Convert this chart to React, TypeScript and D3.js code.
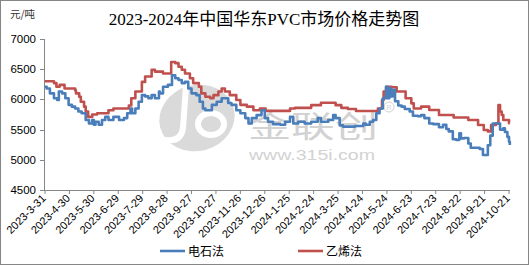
import React from "react";
import * as d3 from "d3";

const W = 529;
const H = 265;

const title = "2023-2024年中国华东PVC市场价格走势图";
const unitLabel = "元/吨";
const yTicks = [4500, 5000, 5500, 6000, 6500, 7000];
const xTickLabels = [
  "2023-3-31", "2023-4-30", "2023-5-30", "2023-6-29", "2023-7-29", "2023-8-28",
  "2023-9-27", "2023-10-27", "2023-11-26", "2023-12-26", "2024-1-25", "2024-2-24",
  "2024-3-25", "2024-4-24", "2024-5-24", "2024-6-23", "2024-7-23", "2024-8-22",
  "2024-9-21", "2024-10-21",
];
const seriesNames = ["电石法", "乙烯法"];

// 电石法 (calcium carbide process)
const dianshi: [string, number][] = [
  ["2023-03-31", 6210], ["2023-04-02", 6180], ["2023-04-06", 6100], ["2023-04-11", 6020],
  ["2023-04-15", 5990], ["2023-04-17", 6130], ["2023-04-21", 6100], ["2023-04-25", 6020],
  ["2023-04-29", 5910], ["2023-05-03", 5880], ["2023-05-07", 5850], ["2023-05-11", 5800],
  ["2023-05-15", 5770], ["2023-05-20", 5660], ["2023-05-24", 5600], ["2023-05-28", 5660],
  ["2023-05-30", 5580], ["2023-06-01", 5630], ["2023-06-05", 5580], ["2023-06-09", 5660],
  ["2023-06-13", 5710], ["2023-06-17", 5660], ["2023-06-23", 5710], ["2023-06-30", 5660],
  ["2023-07-06", 5690], ["2023-07-10", 5770], ["2023-07-14", 5850], ["2023-07-16", 5770],
  ["2023-07-20", 5850], ["2023-07-24", 5960], ["2023-07-28", 6070], ["2023-08-01", 6050],
  ["2023-08-05", 6020], ["2023-08-09", 6070], ["2023-08-13", 6020], ["2023-08-18", 6130],
  ["2023-08-19", 6100], ["2023-08-23", 6210], ["2023-08-29", 6240], ["2023-09-03", 6400],
  ["2023-09-07", 6350], ["2023-09-11", 6320], ["2023-09-15", 6270], ["2023-09-19", 6290],
  ["2023-09-23", 6180], ["2023-09-27", 6100], ["2023-10-03", 6070], ["2023-10-07", 5960],
  ["2023-10-11", 5850], ["2023-10-14", 5820], ["2023-10-22", 5910], ["2023-10-28", 5960],
  ["2023-11-03", 6020], ["2023-11-11", 5940], ["2023-11-15", 5910], ["2023-11-21", 5820],
  ["2023-11-26", 5770], ["2023-12-02", 5690], ["2023-12-06", 5600], ["2023-12-10", 5690],
  ["2023-12-16", 5740], ["2023-12-22", 5820], ["2023-12-26", 5690], ["2023-12-30", 5630],
  ["2024-01-05", 5590], ["2024-01-14", 5580], ["2024-01-20", 5630], ["2024-01-26", 5710],
  ["2024-01-30", 5600], ["2024-02-05", 5630], ["2024-02-13", 5600], ["2024-02-21", 5630],
  ["2024-02-29", 5690], ["2024-03-04", 5630], ["2024-03-13", 5660], ["2024-03-19", 5740],
  ["2024-03-22", 5690], ["2024-03-27", 5570], ["2024-03-31", 5550], ["2024-04-15", 5560],
  ["2024-04-25", 5600], ["2024-04-28", 5580], ["2024-05-03", 5630], ["2024-05-07", 5660],
  ["2024-05-11", 5770], ["2024-05-15", 5850], ["2024-05-19", 6020], ["2024-05-23", 6210],
  ["2024-05-25", 6020], ["2024-05-27", 6180], ["2024-05-29", 6050], ["2024-05-31", 6160],
  ["2024-06-03", 5970], ["2024-06-07", 5900], ["2024-06-11", 5880], ["2024-06-15", 5840],
  ["2024-06-21", 5800], ["2024-06-25", 5730], ["2024-07-01", 5720], ["2024-07-05", 5740],
  ["2024-07-09", 5690], ["2024-07-15", 5600], ["2024-07-20", 5590], ["2024-07-27", 5540],
  ["2024-08-01", 5580], ["2024-08-05", 5510], ["2024-08-08", 5470], ["2024-08-13", 5340],
  ["2024-08-17", 5330], ["2024-08-21", 5440], ["2024-08-23", 5355], ["2024-08-27", 5360],
  ["2024-09-01", 5270], ["2024-09-04", 5200], ["2024-09-15", 5180], ["2024-09-19", 5080],
  ["2024-09-25", 5240], ["2024-09-28", 5400], ["2024-10-01", 5600], ["2024-10-08", 5600],
  ["2024-10-10", 5500], ["2024-10-14", 5520], ["2024-10-16", 5460], ["2024-10-19", 5380],
  ["2024-10-21", 5300], ["2024-10-22", 5245],
];

// 乙烯法 (ethylene process)
const yixi: [string, number][] = [
  ["2023-03-31", 6300], ["2023-04-11", 6270], ["2023-04-14", 6210], ["2023-04-18", 6240],
  ["2023-04-24", 6180], ["2023-05-07", 6150], ["2023-05-08", 6100], ["2023-05-12", 6045],
  ["2023-05-14", 5960], ["2023-05-18", 5880], ["2023-05-20", 5800], ["2023-05-23", 5710],
  ["2023-05-28", 5750], ["2023-06-03", 5770], ["2023-06-17", 5820], ["2023-06-23", 5850],
  ["2023-07-12", 5900], ["2023-07-15", 6020], ["2023-07-20", 6130], ["2023-07-28", 6290],
  ["2023-08-01", 6380], ["2023-08-09", 6490], ["2023-08-13", 6460], ["2023-08-23", 6430],
  ["2023-09-02", 6620], ["2023-09-07", 6600], ["2023-09-11", 6540], ["2023-09-15", 6490],
  ["2023-09-19", 6430], ["2023-09-25", 6350], ["2023-09-29", 6270], ["2023-10-06", 6210],
  ["2023-10-09", 6100], ["2023-10-14", 6045], ["2023-10-20", 6020], ["2023-10-24", 6070],
  ["2023-10-30", 6130], ["2023-11-03", 6180], ["2023-11-07", 6130], ["2023-11-13", 6070],
  ["2023-11-21", 5990], ["2023-11-26", 5910], ["2023-12-04", 5880], ["2023-12-12", 5820],
  ["2023-12-20", 5850], ["2023-12-27", 5810], ["2024-01-26", 5850], ["2024-02-01", 5860],
  ["2024-02-21", 5905], ["2024-03-04", 5945], ["2024-03-22", 5905], ["2024-03-29", 5860],
  ["2024-04-06", 5840], ["2024-04-16", 5808], ["2024-05-13", 5850], ["2024-05-18", 5990],
  ["2024-05-20", 6130], ["2024-05-23", 6210], ["2024-05-30", 6200], ["2024-06-05", 6130],
  ["2024-06-16", 6020], ["2024-06-23", 5935], ["2024-06-26", 5850], ["2024-07-05", 5880],
  ["2024-07-15", 5824], ["2024-07-27", 5741], ["2024-08-14", 5700], ["2024-09-01", 5660],
  ["2024-09-13", 5576], ["2024-09-20", 5493], ["2024-09-25", 5470], ["2024-09-29", 5576],
  ["2024-10-05", 5600], ["2024-10-08", 5907], ["2024-10-10", 5800], ["2024-10-12", 5741],
  ["2024-10-14", 5660], ["2024-10-21", 5604], ["2024-10-22", 5604],
];

const parse = d3.timeParse("%Y-%m-%d");
const BLUE = "#4a7ebb";
const RED = "#c0504d";
const AXIS = "#868686";

export default function App() {
  const x = d3
    .scaleTime()
    .domain([parse("2023-03-31")!, parse("2024-10-22")!])
    .range([45, 45 + (571 * 464) / 570]);
  const y = d3.scaleLinear().domain([4500, 7000]).range([190, 39]);

  const line = d3
    .line<[string, number]>()
    .x((d) => x(parse(d[0])!))
    .y((d) => y(d[1]))
    .curve(d3.curveStepAfter);

  const sans = "'Liberation Sans', Arial, sans-serif";
  const cjk = "'Noto Sans CJK SC', sans-serif";
  const axisY0 = y(4500);

  return (
    <svg
      width={W}
      height={H}
      style={{ position: "absolute", left: 0, top: 0, display: "block" }}
    >
      <rect x={0} y={0} width={W} height={H} fill="#fff" />
      <rect x={0.5} y={0.5} width={W - 1} height={H - 1} fill="none" stroke={AXIS} />

      {/* watermark */}
      <g>
        <ellipse cx={197} cy={118} rx={38} ry={33} fill="#dadada" transform="rotate(-15 197 118)" />
        <path d="M186 86 L183 128 Q181 142 166 140" fill="none" stroke="#fff" strokeWidth={6} strokeLinecap="round" />
        <ellipse cx={211} cy={124} rx={13} ry={11} fill="none" stroke="#fff" strokeWidth={6} />
        <text x={248} y={137} fontFamily={cjk} fontSize={30} fill="#d2d2d2" textLength={130} lengthAdjust="spacingAndGlyphs">
          金联创
        </text>
        <text x={249} y={160} fontFamily={sans} fontSize={15} fill="#d2d2d2" textLength={126} lengthAdjust="spacingAndGlyphs">
          www.315i.com
        </text>
        <circle cx={389} cy={107} r={5} fill="none" stroke="#d2d2d2" strokeWidth={1} />
        <text x={389} y={110} textAnchor="middle" fontFamily={sans} fontSize={7} fill="#d2d2d2">R</text>
      </g>

      {/* title */}
      <text x={10} y={18} fontFamily={cjk} fontSize={10.5} fill="#333">{unitLabel}</text>
      <text
        x={264}
        y={25}
        textAnchor="middle"
        fontFamily={"'Liberation Serif', 'Noto Sans CJK SC', serif"}
        fontSize={17}
        fill="#000"
      >
        {title}
      </text>

      {/* y axis */}
      <line x1={44.5} x2={44.5} y1={y(7000)} y2={axisY0} stroke={AXIS} />
      {yTicks.map((t) => (
        <g key={t}>
          <line x1={40} x2={44.5} y1={Math.round(y(t)) + 0.5} y2={Math.round(y(t)) + 0.5} stroke={AXIS} />
          <text x={36} y={y(t) + 4} textAnchor="end" fontFamily={sans} fontSize={11.5} fill="#000">
            {t}
          </text>
        </g>
      ))}

      {/* x axis */}
      <line x1={44} x2={510} y1={Math.round(axisY0) + 0.5} y2={Math.round(axisY0) + 0.5} stroke={AXIS} />
      {xTickLabels.map((lab) => {
        const tx = x(parse(lab)!);
        return (
          <g key={lab}>
            <line x1={tx} x2={tx} y1={axisY0} y2={axisY0 + 4} stroke={AXIS} />
            <text
              transform={`translate(${tx + 1.5},${axisY0 + 9}) rotate(-45)`}
              textAnchor="end"
              fontFamily={sans}
              fontSize={11}
              fill="#000"
            >
              {lab}
            </text>
          </g>
        );
      })}

      {/* series */}
      <path d={line(yixi) || ""} fill="none" stroke={RED} strokeWidth={2.6} strokeLinejoin="round" />
      <path d={line(dianshi) || ""} fill="none" stroke={BLUE} strokeWidth={2.6} strokeLinejoin="round" />

      {/* legend */}
      <line x1={160} x2={185} y1={251} y2={251} stroke={BLUE} strokeWidth={2.6} />
      <text x={188} y={255.5} fontFamily={cjk} fontSize={12} fill="#000">{seriesNames[0]}</text>
      <line x1={298} x2={323} y1={251} y2={251} stroke={RED} strokeWidth={2.6} />
      <text x={326} y={255.5} fontFamily={cjk} fontSize={12} fill="#000">{seriesNames[1]}</text>
    </svg>
  );
}
